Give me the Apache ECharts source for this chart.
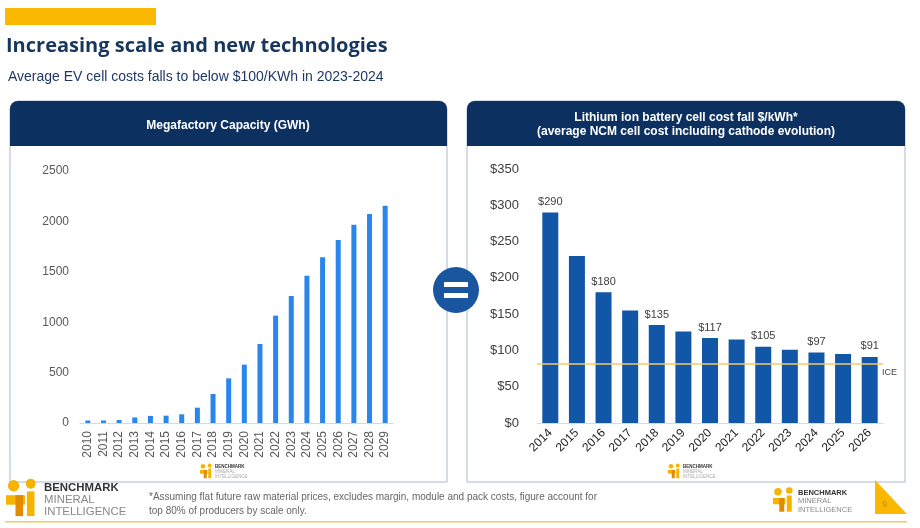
<!DOCTYPE html>
<html>
<head>
<meta charset="utf-8">
<script src="https://cdn.jsdelivr.net/npm/echarts@6/dist/echarts.min.js"></script>
<style>
html,body{margin:0;padding:0;background:#fff;}
#main{width:920px;height:528px;}
</style>
</head>
<body>
<div id="main"></div>
<script>
// ---- Data ----
var capacityYears = ['2010','2011','2012','2013','2014','2015','2016','2017','2018','2019','2020','2021','2022','2023','2024','2025','2026','2027','2028','2029'];
var capacityGWh = [25, 25, 30, 55, 70, 73, 86, 152, 288, 443, 579, 784, 1065, 1260, 1462, 1645, 1815, 1967, 2073, 2156];
var capacityTicks = [0, 500, 1000, 1500, 2000, 2500];

var costYears = ['2014','2015','2016','2017','2018','2019','2020','2021','2022','2023','2024','2025','2026'];
var costUSD = [290, 230, 180, 155, 135, 126, 117, 115, 105, 101, 97, 95, 91];
var costLabelledYears = ['2014','2016','2018','2020','2022','2024','2026'];
var costTicks = [0, 50, 100, 150, 200, 250, 300, 350];
var iceLevel = 81;

var titleText = 'Increasing scale and new technologies';
var subtitleText = 'Average EV cell costs falls to below $100/KWh in 2023-2024';
var leftHeader = 'Megafactory Capacity (GWh)';
var rightHeader1 = 'Lithium ion battery cell cost fall $/kWh*';
var rightHeader2 = '(average NCM cell cost including cathode evolution)';
var footnote1 = '*Assuming flat future raw material prices, excludes margin, module and pack costs, figure account for';
var footnote2 = 'top 80% of producers by scale only.';

// ---- Chart ----
var chart = echarts.init(document.getElementById('main'), null, {renderer: 'canvas'});
var NAVY = '#0c3160';
var SANS = '"Liberation Sans", Arial, sans-serif';

function logo(x, y, s, textColor) {
  var els = [
    {type: 'circle', shape: {cx: x + 4*s, cy: y + 3*s, r: 3*s}, style: {fill: '#f6b400'}},
    {type: 'circle', shape: {cx: x + 13*s, cy: y + 2*s, r: 2.6*s}, style: {fill: '#f6b400'}},
    {type: 'rect', shape: {x: x, y: y + 8*s, width: 10*s, height: 5*s}, style: {fill: '#f6b400'}},
    {type: 'rect', shape: {x: x + 5*s, y: y + 8*s, width: 4*s, height: 11*s}, style: {fill: '#e28a00'}},
    {type: 'rect', shape: {x: x + 11*s, y: y + 6*s, width: 4*s, height: 13*s}, style: {fill: '#f6b400'}},
    {type: 'text', style: {x: x + 20*s, y: y + 1*s, text: 'BENCHMARK', font: 'bold ' + (6*s) + 'px ' + SANS, fill: '#333'}},
    {type: 'text', style: {x: x + 20*s, y: y + 7.5*s, text: 'MINERAL', font: (6*s) + 'px ' + SANS, fill: textColor}},
    {type: 'text', style: {x: x + 20*s, y: y + 14*s, text: 'INTELLIGENCE', font: (6*s) + 'px ' + SANS, fill: textColor}}
  ];
  return els;
}

var graphics = [
  {type: 'rect', shape: {x: 5, y: 8, width: 151, height: 17}, style: {fill: '#fbb800'}},
  {type: 'text', style: {x: 6, y: 36, text: titleText, font: 'bold 20px "Open Sans", sans-serif', fill: '#17375e'}},
  {type: 'text', style: {x: 8, y: 70, text: subtitleText, font: '14px ' + SANS, fill: '#1f3864'}},
  // panels
  {type: 'rect', shape: {x: 10, y: 101, width: 437, height: 381, r: [8, 8, 0, 0]}, style: {fill: 'none', stroke: '#a9b9cf', lineWidth: 1}},
  {type: 'rect', shape: {x: 10, y: 101, width: 437, height: 45, r: [8, 8, 0, 0]}, style: {fill: NAVY}},
  {type: 'text', style: {x: 228, y: 126, text: leftHeader, font: 'bold 12px ' + SANS, fill: '#fff', textAlign: 'center', textVerticalAlign: 'middle'}},
  {type: 'rect', shape: {x: 467, y: 101, width: 438, height: 381, r: [8, 8, 0, 0]}, style: {fill: 'none', stroke: '#a9b9cf', lineWidth: 1}},
  {type: 'rect', shape: {x: 467, y: 101, width: 438, height: 45, r: [8, 8, 0, 0]}, style: {fill: NAVY}},
  {type: 'text', style: {x: 686, y: 118, text: rightHeader1, font: 'bold 12px ' + SANS, fill: '#fff', textAlign: 'center', textVerticalAlign: 'middle'}},
  {type: 'text', style: {x: 686, y: 132, text: rightHeader2, font: 'bold 12px ' + SANS, fill: '#fff', textAlign: 'center', textVerticalAlign: 'middle'}},
  // equals circle
  {type: 'circle', shape: {cx: 456, cy: 290, r: 23}, style: {fill: '#1a56a0'}},
  {type: 'rect', shape: {x: 444, y: 282, width: 24, height: 5}, style: {fill: '#fff'}},
  {type: 'rect', shape: {x: 444, y: 293, width: 24, height: 5}, style: {fill: '#fff'}},
  // ICE label
  {type: 'text', style: {x: 882, y: 373, text: 'ICE', font: '9px ' + SANS, fill: '#444', textVerticalAlign: 'middle'}},
  // footnote
  {type: 'text', style: {x: 149, y: 492, text: footnote1, font: '10px ' + SANS, fill: '#666'}},
  {type: 'text', style: {x: 149, y: 506, text: footnote2, font: '10px ' + SANS, fill: '#666'}},
  {type: 'rect', shape: {x: 5, y: 521, width: 902, height: 1.5}, style: {fill: '#f3c860'}},
  {type: 'polygon', shape: {points: [[875, 480], [875, 514], [907, 514]]}, style: {fill: '#fbb800'}},
  {type: 'text', style: {x: 882, y: 505, text: '9', font: '9px ' + SANS, fill: '#c98e00', textVerticalAlign: 'middle'}}
];
graphics = graphics.concat(logo(6, 480, 1.9, '#888'));
graphics = graphics.concat(logo(773, 488, 1.25, '#888'));
graphics = graphics.concat(logo(200, 464, 0.75, '#aaa'));
graphics = graphics.concat(logo(668, 464, 0.75, '#aaa'));

var costData = costUSD.map(function (v, i) {
  return {value: v, label: {show: costLabelledYears.indexOf(costYears[i]) >= 0}};
});

var option = {
  animation: false,
  backgroundColor: '#ffffff',
  graphic: {elements: graphics},
  grid: [
    {left: 80, top: 171, width: 313, height: 252, containLabel: false},
    {left: 537, top: 169, width: 346, height: 254, containLabel: false}
  ],
  xAxis: [
    {
      type: 'category', gridIndex: 0, data: capacityYears,
      axisLine: {lineStyle: {color: '#d9d9d9', width: 1}},
      axisTick: {show: false},
      axisLabel: {rotate: 90, color: '#595959', fontSize: 12, fontFamily: SANS, margin: 8, interval: 0}
    },
    {
      type: 'category', gridIndex: 1, data: costYears,
      axisLine: {lineStyle: {color: '#d9d9d9', width: 1}},
      axisTick: {show: false},
      axisLabel: {rotate: 45, color: '#222', fontSize: 12, fontFamily: SANS, margin: 8, interval: 0}
    }
  ],
  yAxis: [
    {
      type: 'value', gridIndex: 0, min: capacityTicks[0], max: capacityTicks[capacityTicks.length - 1], interval: 500,
      splitLine: {show: false}, axisLine: {show: false}, axisTick: {show: false},
      axisLabel: {color: '#595959', fontSize: 12, fontFamily: SANS, margin: 11, formatter: function (v) { return String(v); }}
    },
    {
      type: 'value', gridIndex: 1, min: costTicks[0], max: costTicks[costTicks.length - 1], interval: 50,
      splitLine: {show: false}, axisLine: {show: false}, axisTick: {show: false},
      axisLabel: {color: '#404040', fontSize: 13, fontFamily: SANS, margin: 18, formatter: '${value}'}
    }
  ],
  series: [
    {
      type: 'bar', xAxisIndex: 0, yAxisIndex: 0, data: capacityGWh, barWidth: 5,
      itemStyle: {color: '#2a86ea'}
    },
    {
      type: 'bar', xAxisIndex: 1, yAxisIndex: 1, data: costData, barWidth: 16,
      itemStyle: {color: '#1256a7'},
      label: {position: 'top', color: '#404040', fontSize: 11, fontFamily: SANS, formatter: '${c}', distance: 5},
      markLine: {
        silent: true, symbol: 'none',
        lineStyle: {color: '#f7c96a', width: 1.5, type: 'solid'},
        label: {show: false},
        data: [{yAxis: iceLevel}]
      }
    }
  ]
};
chart.setOption(option);
</script>
</body>
</html>
